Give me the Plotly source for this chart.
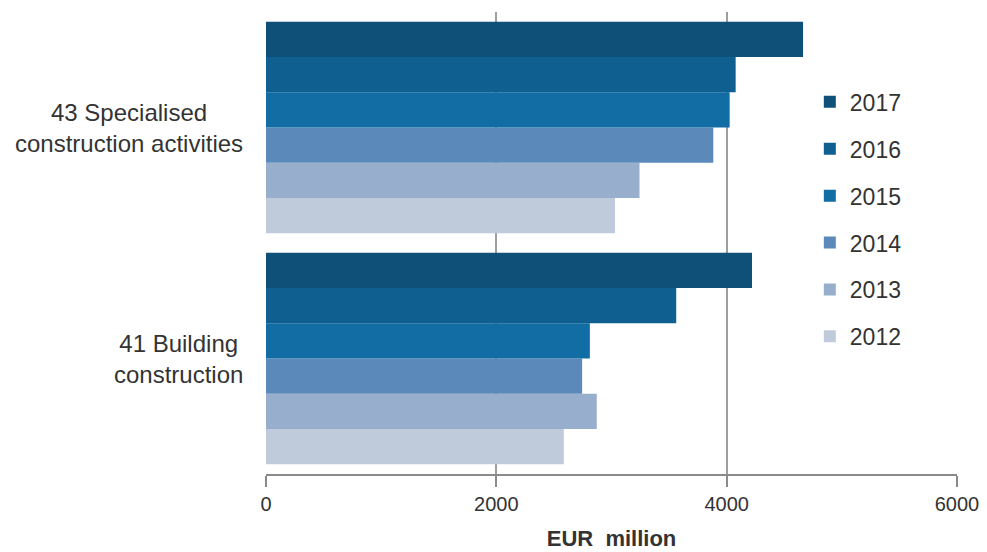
import plotly.graph_objects as go

# Turnover by industry, EUR million
categories = ["41 Building<br>construction", "43 Specialised<br>construction activities"]
years = ["2012", "2013", "2014", "2015", "2016", "2017"]
values_2012 = [2586, 3030]
values_2013 = [2872, 3243]
values_2014 = [2745, 3884]
values_2015 = [2812, 4026]
values_2016 = [3562, 4078]
values_2017 = [4220, 4663]
series = [values_2012, values_2013, values_2014, values_2015, values_2016, values_2017]
colors = ["#bfcadb", "#97aecc", "#5b8aba", "#126da4", "#0f5f91", "#0e5078"]
x_ticks = [0, 2000, 4000, 6000]

fig = go.Figure()
for i, (year, vals, col) in enumerate(zip(years, series, colors)):
    fig.add_trace(go.Bar(
        y=categories, x=vals, name=year, orientation="h",
        marker=dict(color=col, line=dict(width=0)),
        legendgroup=year,
        legendrank=len(years) - i,  # newest year listed first
    ))

# Category labels, centred line by line, right edge just left of the axis
for cat in categories:
    fig.add_annotation(
        text=cat, x=-0.03, xref="paper", y=cat, yref="y",
        xanchor="right", yanchor="middle", align="center", showarrow=False,
        font=dict(size=24, color="#333333"),
    )

fig.update_layout(
    width=987, height=552,
    margin=dict(l=266, r=30, t=12, b=78, autoexpand=False),
    paper_bgcolor="white", plot_bgcolor="white",
    barmode="group", bargap=0.084, bargroupgap=0,
    font=dict(family="Liberation Sans, Arial, sans-serif", color="#333333"),
    showlegend=True,
    legend=dict(
        x=0.787, y=0.852, xanchor="left", yanchor="top",
        traceorder="grouped", tracegroupgap=14,
        font=dict(size=23, color="#333333"),
        bgcolor="rgba(255,255,255,0)",
    ),
    xaxis=dict(
        range=[0, 6000], tickvals=x_ticks, ticktext=[str(v) for v in x_ticks],
        showgrid=True, gridcolor="#9e9e9e", gridwidth=1.5, zeroline=False,
        showline=True, linecolor="#8a8a8a", linewidth=2,
        ticks="outside", ticklen=11, tickcolor="#8a8a8a", tickwidth=1.5,
        tickfont=dict(size=20, color="#333333"),
        title=dict(text="<b>EUR  million</b>", font=dict(size=22, color="#333333"), standoff=17),
        fixedrange=True,
    ),
    yaxis=dict(
        showgrid=False, zeroline=False, showline=False, ticks="",
        showticklabels=False,
        fixedrange=True,
    ),
)

fig.write_html("out.html")
